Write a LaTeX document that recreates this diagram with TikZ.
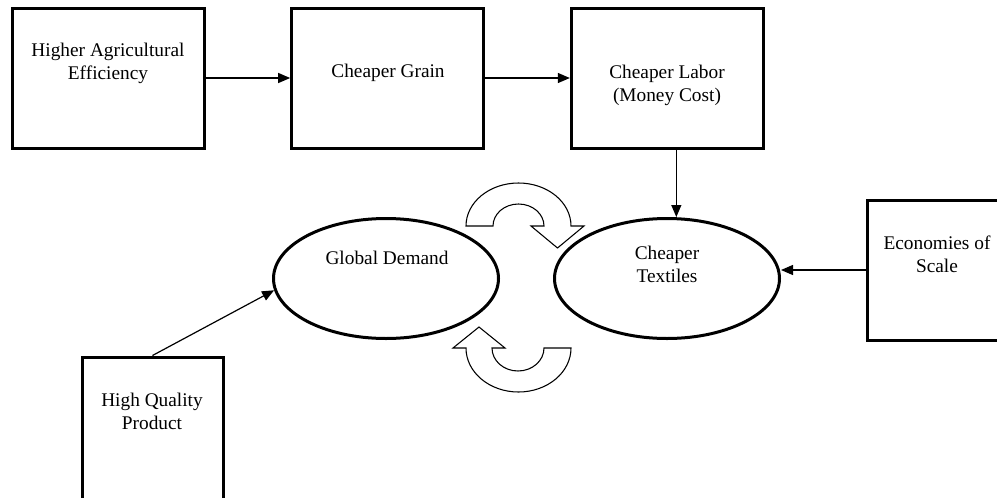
\documentclass[tikz,border=0pt]{standalone}
\usepackage{fontspec}
\setmainfont{Liberation Serif}
\usetikzlibrary{positioning,arrows.meta,shapes.geometric}

\begin{document}
\begin{tikzpicture}[x=0.75pt,y=-0.75pt,->,>={Triangle[length=9pt,width=7.5pt]},
                    line width=0.9pt,font=\fontsize{14.5pt}{17.25pt}\selectfont,
                    box/.style={draw,rectangle,line width=2.25pt,inner sep=0pt,
                                minimum width=144pt,minimum height=105pt},
                    sbox/.style={box,minimum width=105.75pt},
                    oval/.style={draw,ellipse,line width=2.25pt,inner sep=0pt,
                                 minimum width=168.75pt,minimum height=90pt},
                    txt/.style={align=center,inner sep=0pt},
                    turn/.style={-,draw,line width=0.8pt}]
\useasboundingbox (0,0) rectangle (997,497);
\clip (0,0) rectangle (997,497);
% top row
\node[box] (agri) at (108,78) {};
\node[box,right=63.5pt of agri] (grain) {};
\node[box,right=63.5pt of grain] (labor) {};
% ovals
\node[oval] (demand) at (386,278.5) {};
\node[oval] (textiles) at (667,278.5) {};
% side boxes
\node[sbox] (scale) at (937.5,270) {};
\node[sbox,minimum height=108pt] (quality) at (152.5,429) {};
% texts
\node[txt] (agritxt) at (108,63.5) {Higher Agricultural\\Efficiency};
\node[txt] (graintxt) at (388,73) {Cheaper Grain};
\node[txt] (labortxt) at (667,85) {Cheaper Labor\\(Money Cost)};
\node[txt] (demandtxt) at (387,258) {Global Demand};
\node[txt] (textilestxt) at (667,264.5) {Cheaper\\Textiles};
\node[txt] (scaletxt) at (937,254.5) {Economies of\\Scale};
\node[txt] (qualitytxt) at (152,411.5) {High Quality\\Product};
\path (agri) edge (grain)
      (grain) edge (labor);
\draw ([xshift=6.75pt]labor.south) -- ([xshift=6.75pt]labor.south |- textiles.north);
\draw (scale) -- (scale -| textiles.east);
\draw (quality.north) -- (demand.186);
% turning arrows
\draw[turn] (466,226) arc[start angle=180,end angle=360,x radius=52.5,y radius=43]
      -- (584,226) -- (557.5,248) -- (531,226) -- (544,226)
      arc[start angle=0,end angle=-180,x radius=25.5,y radius=22] -- cycle;
\draw[turn] (571,348) arc[start angle=0,end angle=180,x radius=52.5,y radius=44]
      -- (453,348) -- (479,327) -- (505,348) -- (492,348)
      arc[start angle=180,end angle=0,x radius=26,y radius=23] -- cycle;
\end{tikzpicture}
\end{document}
